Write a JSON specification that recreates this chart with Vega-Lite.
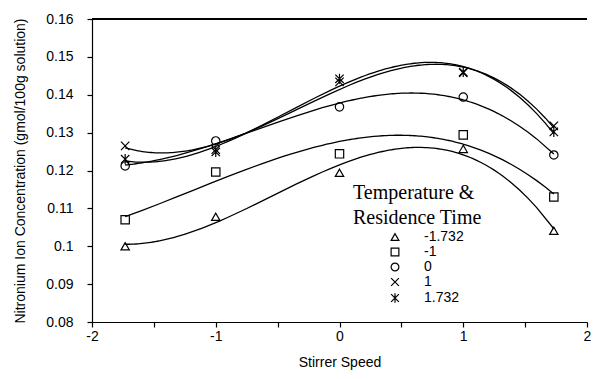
{
  "$schema": "https://vega.github.io/schema/vega-lite/v6.json",
  "width": 495,
  "height": 303,
  "autosize": {"type": "none"},
  "padding": {"left": 92, "top": 19, "right": 22, "bottom": 57},
  "background": "white",
  "config": {
    "view": {"stroke": null},
    "axis": {"grid": false, "domainColor": "black", "tickColor": "black", "labelColor": "black", "titleColor": "black", "labelFont": "Liberation Sans", "titleFont": "Liberation Sans", "labelFontSize": 14, "titleFontSize": 14, "titleFontWeight": "normal", "domainWidth": 1.2, "tickWidth": 1.2, "labelOverlap": false}
  },
  "data": {
    "values": [
      {"speed": -1.732, "conc": 0.1000, "temp": "-1.732"},
      {"speed": -1, "conc": 0.1078, "temp": "-1.732"},
      {"speed": 0, "conc": 0.1194, "temp": "-1.732"},
      {"speed": 1, "conc": 0.1257, "temp": "-1.732"},
      {"speed": 1.732, "conc": 0.1041, "temp": "-1.732"},
      {"speed": -1.732, "conc": 0.1070, "temp": "-1"},
      {"speed": -1, "conc": 0.1196, "temp": "-1"},
      {"speed": 0, "conc": 0.1244, "temp": "-1"},
      {"speed": 1, "conc": 0.1294, "temp": "-1"},
      {"speed": 1.732, "conc": 0.1130, "temp": "-1"},
      {"speed": -1.732, "conc": 0.1212, "temp": "0"},
      {"speed": -1, "conc": 0.1278, "temp": "0"},
      {"speed": 0, "conc": 0.1368, "temp": "0"},
      {"speed": 1, "conc": 0.1394, "temp": "0"},
      {"speed": 1.732, "conc": 0.1241, "temp": "0"},
      {"speed": -1.732, "conc": 0.1265, "temp": "1"},
      {"speed": -1, "conc": 0.1255, "temp": "1"},
      {"speed": 0, "conc": 0.1434, "temp": "1"},
      {"speed": 1, "conc": 0.1458, "temp": "1"},
      {"speed": 1.732, "conc": 0.1318, "temp": "1"},
      {"speed": -1.732, "conc": 0.1230, "temp": "1.732"},
      {"speed": -1, "conc": 0.1249, "temp": "1.732"},
      {"speed": 0, "conc": 0.1442, "temp": "1.732"},
      {"speed": 1, "conc": 0.1460, "temp": "1.732"},
      {"speed": 1.732, "conc": 0.1302, "temp": "1.732"}
    ]
  },
  "layer": [
    {
      "mark": {"type": "rule", "color": "black", "strokeWidth": 1.2},
      "encoding": {
        "y": {
          "datum": 0.16, "type": "quantitative",
          "scale": {"domain": [0.08, 0.16], "nice": false, "zero": false},
          "axis": {"title": "Nitronium Ion Concentration (gmol/100g solution)", "values": [0.08, 0.09, 0.1, 0.11, 0.12, 0.13, 0.14, 0.15, 0.16], "format": ".2~f", "tickSize": 5, "labelPadding": 14, "titlePadding": 18, "labelFlush": false, "labelOverlap": false}
        }
      }
    },
    {
      "transform": [
        {"regression": "conc", "on": "speed", "groupby": ["temp"], "method": "poly", "order": 3, "extent": [-1.732, 1.732]}
      ],
      "mark": {"type": "line", "color": "black", "strokeWidth": 1.3},
      "encoding": {
        "x": {
          "field": "speed", "type": "quantitative",
          "scale": {"domain": [-2, 2], "nice": false},
          "axis": {"title": "Stirrer Speed", "values": [-2, -1.5, -1, -0.5, 0, 0.5, 1, 1.5, 2], "labelExpr": "datum.value % 1 === 0 ? toString(datum.value) : ''", "tickSize": 5, "labelPadding": 2, "titlePadding": 12, "labelFlush": false}
        },
        "y": {
          "field": "conc", "type": "quantitative",
          "scale": {"domain": [0.08, 0.16], "nice": false, "zero": false},
          "axis": {"title": "Nitronium Ion Concentration (gmol/100g solution)", "values": [0.08, 0.09, 0.1, 0.11, 0.12, 0.13, 0.14, 0.15, 0.16], "format": ".2~f", "tickSize": 5, "labelPadding": 14, "titlePadding": 18, "labelFlush": false, "labelOverlap": false}
        },
        "detail": {"field": "temp"}
      }
    },
    {
      "mark": {"type": "point", "filled": false, "color": "black", "strokeWidth": 1.2, "size": 70, "opacity": 1},
      "encoding": {
        "x": {
          "field": "speed", "type": "quantitative",
          "scale": {"domain": [-2, 2], "nice": false},
          "axis": {"title": "Stirrer Speed", "values": [-2, -1.5, -1, -0.5, 0, 0.5, 1, 1.5, 2], "labelExpr": "datum.value % 1 === 0 ? toString(datum.value) : ''", "tickSize": 5, "labelPadding": 2, "titlePadding": 12, "labelFlush": false}
        },
        "y": {
          "field": "conc", "type": "quantitative",
          "scale": {"domain": [0.08, 0.16], "nice": false, "zero": false},
          "axis": {"title": "Nitronium Ion Concentration (gmol/100g solution)", "values": [0.08, 0.09, 0.1, 0.11, 0.12, 0.13, 0.14, 0.15, 0.16], "format": ".2~f", "tickSize": 5, "labelPadding": 14, "titlePadding": 18, "labelFlush": false, "labelOverlap": false}
        },
        "shape": {
          "field": "temp", "type": "nominal",
          "scale": {"domain": ["-1.732", "-1", "0", "1", "1.732"], "range": ["triangle-up", "square", "circle", "M-1,-1L1,1M-1,1L1,-1", "M-1,-1L1,1M-1,1L1,-1M0,-1.2L0,1.2"]},
          "legend": {
            "title": ["Temperature &", "Residence Time"],
            "titleFont": "Liberation Serif", "titleFontSize": 20, "titleFontWeight": "normal", "titleColor": "black", "titleLineHeight": 25, "titleAlign": "left",
            "labelFont": "Liberation Sans", "labelFontSize": 14, "labelColor": "black",
            "symbolStrokeColor": "black", "symbolFillColor": "transparent", "symbolStrokeWidth": 1.2, "symbolSize": 60,
            "orient": "none", "legendX": 261, "legendY": 164, "symbolOffset": 35, "rowPadding": 1, "titlePadding": 2, "labelOffset": 22
          }
        }
      }
    }
  ]
}
